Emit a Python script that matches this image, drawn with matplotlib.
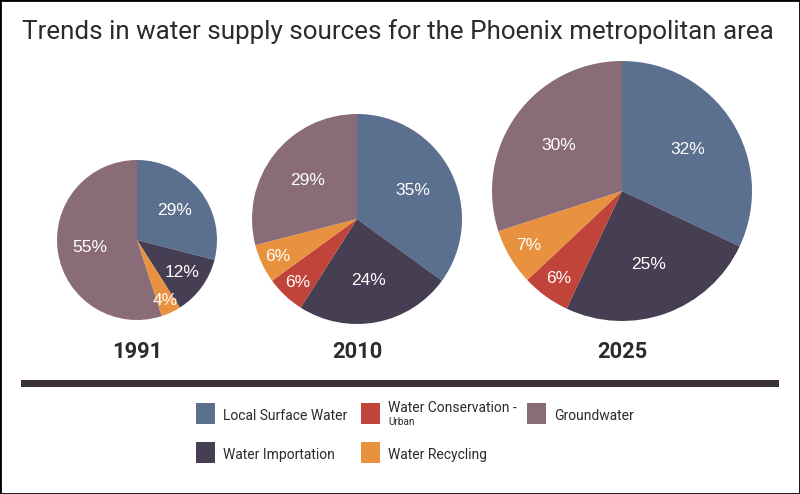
import numpy as np
import matplotlib.pyplot as plt
from matplotlib.patches import Rectangle

years = ["1991", "2010", "2025"]
sources = ["Local Surface Water", "Water Importation", "Water Conservation - Urban",
           "Water Recycling", "Groundwater"]
share_1991 = [29, 12, 0, 4, 55]
share_2010 = [35, 24, 6, 6, 29]
share_2025 = [32, 25, 6, 7, 30]
colors = ["#5b6f8e", "#463e52", "#c0443a", "#e8913f", "#8a6c78"]

W, H = 800, 494
FONT = ["Liberation Sans Narrow", "Roboto", "Liberation Sans", "DejaVu Sans"]
TXT = "#2b2b2b"

fig = plt.figure(figsize=(8, 4.94), dpi=100)
ax = fig.add_axes([0, 0, 1, 1])
renderer = fig.canvas.get_renderer()


def fit(t, width):
    # scale a text so it spans about `width` pixels (the original uses a narrow face)
    w = t.get_window_extent(renderer).width
    t.set_fontsize(t.get_fontsize() * width / w)
    return t.get_fontsize()


# pie layout in pixels measured from top-left
pies = [(share_1991, 137, 240, 80),
        (share_2010, 357, 219, 105),
        (share_2025, 622, 191, 130)]

year_fs = None
for (vals, cx, cy, r), yr in zip(pies, years):
    wedges, _ = ax.pie(vals, colors=colors, startangle=90, counterclock=False,
                       center=(cx, H - cy), radius=r, frame=True,
                       wedgeprops=dict(linewidth=0.5, edgecolor="none"))
    for w, v in zip(wedges, vals):
        if v == 0:
            continue
        mid = np.deg2rad((w.theta1 + w.theta2) / 2)
        f = 0.6 if v >= 20 else (0.7 if v >= 10 else 0.83)
        ax.text(cx + f * r * np.cos(mid), H - cy + f * r * np.sin(mid), f"{v}%",
                ha="center", va="center", color="white", fontsize=12.5,
                family=["Liberation Sans", "DejaVu Sans"])
    t = ax.text(cx, H - 352, yr, ha="center", va="center", fontsize=18,
                fontweight="bold", family=FONT, color=TXT)
    if year_fs is None:
        year_fs = fit(t, 50)
    else:
        t.set_fontsize(year_fs)

ax.set_xlim(0, W)
ax.set_ylim(0, H)
ax.set_aspect("auto")
ax.axis("off")

t = ax.text(22, H - 32, "Trends in water supply sources for the Phoenix metropolitan area",
            ha="left", va="center", fontsize=18, family=FONT, color=TXT)
fit(t, 752)

# thick divider
ax.add_patch(Rectangle((21, H - 387), 758, 7, color="#3b3236", lw=0))

# legend, drawn by hand to match the layout
leg = [(0, 196, 403, "Local Surface Water"),
       (2, 361, 403, "Water Conservation -"),
       (4, 527, 403, "Groundwater"),
       (1, 196, 442, "Water Importation"),
       (3, 361, 442, "Water Recycling")]
leg_fs = None
for i, x, y, lab in leg:
    ax.add_patch(Rectangle((x, H - y - 21), 19, 21, color=colors[i], lw=0))
    ty = y + 13 if i != 2 else y + 5
    t = ax.text(x + 27, H - ty, lab, ha="left", va="center", fontsize=12,
                family=FONT, color=TXT)
    if leg_fs is None:
        leg_fs = fit(t, 124)
    else:
        t.set_fontsize(leg_fs)
ax.text(388, H - 422, "Urban", ha="left", va="center", fontsize=leg_fs * 0.72,
        family=FONT, color=TXT)

# frame around the picture
fig.patches.append(Rectangle((0, 0), 1, 1, transform=fig.transFigure, fill=False,
                             edgecolor="black", lw=2))

fig.savefig("out.png", dpi=100)
